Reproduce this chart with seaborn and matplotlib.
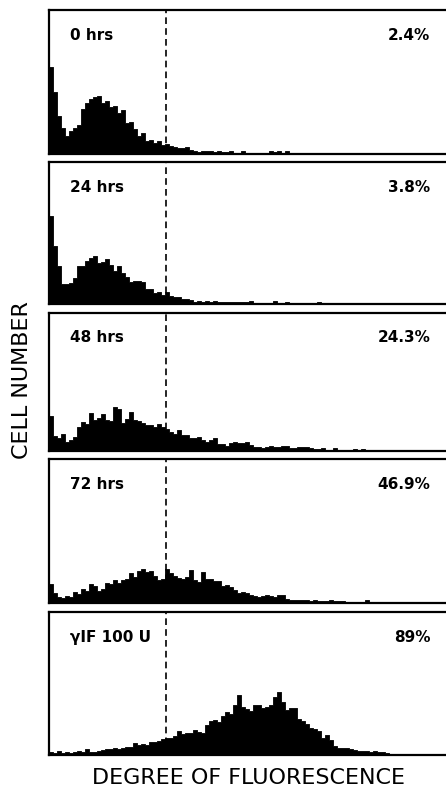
"""
Flow cytometry fluorescence histograms at successive time points.
"""

import numpy as np
import pandas as pd
import matplotlib
matplotlib.use("Agg")
import matplotlib.pyplot as plt
import seaborn as sns

# channel bins (each bin = 4 fluorescence channels), 100 bins across the panel
n_bins = 100

labels = ["0 hrs", "24 hrs", "48 hrs", "72 hrs", "\u03b3IF 100 U"]
percents = ["2.4%", "3.8%", "24.3%", "46.9%", "89%"]

counts_0h = [87, 62, 38, 26, 18, 23, 26, 29, 45, 51, 55, 57, 58, 51, 53, 47, 48, 41, 44, 31,
             32, 25, 18, 21, 13, 14, 11, 13, 9, 10, 8, 7, 6, 6, 7, 4, 3, 2, 3, 3,
             3, 2, 3, 2, 2, 3, 1, 1, 3, 1, 1, 1, 1, 1, 1, 3, 2, 3, 1, 3, 1]

counts_24h = [88, 58, 38, 20, 20, 21, 26, 38, 38, 43, 46, 48, 41, 42, 45, 39, 33, 38, 31, 27,
              22, 23, 23, 22, 15, 15, 11, 12, 9, 12, 8, 7, 7, 5, 5, 4, 2, 3, 2, 3,
              2, 3, 2, 2, 2, 2, 2, 2, 2, 2, 3, 1, 1, 1, 1, 1, 3, 1, 1, 2,
              1, 0, 1, 0, 1, 0, 1, 2]

counts_48h = [35, 15, 13, 17, 9, 11, 14, 24, 29, 27, 38, 31, 33, 37, 31, 30, 44, 42, 28, 32,
              39, 31, 30, 28, 26, 26, 24, 27, 24, 22, 19, 17, 21, 16, 16, 13, 13, 14, 11, 9,
              11, 13, 7, 7, 5, 8, 9, 8, 8, 9, 6, 4, 4, 3, 4, 5, 4, 4, 5, 5,
              3, 3, 4, 4, 4, 3, 2, 2, 3, 1, 1, 3, 1, 1, 1, 1, 2, 1, 2, 1]

counts_72h = [19, 10, 6, 5, 7, 6, 11, 9, 14, 12, 19, 17, 12, 14, 20, 19, 23, 20, 23, 24,
              30, 26, 32, 34, 31, 32, 27, 23, 24, 34, 30, 27, 25, 24, 26, 33, 23, 21, 31, 24,
              24, 22, 22, 17, 18, 16, 13, 10, 11, 10, 8, 7, 6, 7, 8, 7, 6, 8, 8, 4,
              3, 3, 3, 3, 3, 2, 3, 2, 2, 2, 3, 2, 2, 2, 1, 1, 1, 1, 1, 3, 1, 1]

counts_ifn = [3, 2, 4, 2, 3, 2, 3, 4, 3, 6, 3, 3, 4, 5, 6, 6, 7, 6, 7, 8,
              8, 12, 10, 11, 10, 13, 13, 14, 16, 17, 17, 19, 24, 21, 22, 22, 25, 23, 22, 30,
              34, 35, 33, 39, 43, 41, 50, 60, 48, 46, 44, 50, 50, 47, 48, 50, 58, 63, 53, 45,
              47, 47, 36, 34, 31, 27, 26, 24, 17, 20, 15, 9, 7, 7, 7, 6, 5, 4, 4, 4,
              3, 4, 3, 3, 2, 1, 1]

gate_channel = 29.2

# panel boxes in pixels: (top, bottom)
panel_px = [(10, 154), (162, 304), (313, 451), (459, 603), (612, 755)]
fig_w, fig_h = 446, 795
left_px, right_px = 49, 449


def pad(values):
    return values + [0] * (n_bins - len(values))


def main():
    sns.set_style("white")
    plt.rcParams["font.family"] = ["DejaVu Sans"]
    plt.rcParams["text.color"] = "black"

    fig = plt.figure(figsize=(fig_w / 100, fig_h / 100), dpi=100)
    fig.patch.set_facecolor("white")

    series = [counts_0h, counts_24h, counts_48h, counts_72h, counts_ifn]

    for (top, bottom), counts, lab, pct in zip(panel_px, series, labels, percents):
        df = pd.DataFrame({"channel": np.arange(n_bins) + 0.5, "count": pad(counts)})
        ax = fig.add_axes([left_px / fig_w, (fig_h - bottom) / fig_h,
                           (right_px - left_px) / fig_w, (bottom - top) / fig_h])
        sns.histplot(data=df, x="channel", weights="count", bins=n_bins,
                     binrange=(0, n_bins), element="step", fill=True,
                     color="black", alpha=1, linewidth=0.6, ax=ax)
        ax.axvline(gate_channel, color="black", lw=1.2, ls=(0, (4, 2.5)))
        ax.set_xlim(0, n_bins)
        ax.set_ylim(0, bottom - top)
        ax.set_xticks([])
        ax.set_yticks([])
        ax.set_xlabel("")
        ax.set_ylabel("")
        for sp in ax.spines.values():
            sp.set_color("black")
            sp.set_linewidth(1.6)
        ax.text(0.053, 0.82, lab, transform=ax.transAxes, fontsize=11,
                fontweight="bold", ha="left", va="center", color="black")
        ax.text(0.953, 0.82, pct, transform=ax.transAxes, fontsize=11,
                fontweight="bold", ha="right", va="center", color="black")

    fig.text(22 / fig_w, 1 - 380 / fig_h, "CELL NUMBER", rotation=90,
             fontsize=16, ha="center", va="center", color="black")
    fig.text(249 / fig_w, 1 - 778 / fig_h, "DEGREE OF FLUORESCENCE",
             fontsize=16, ha="center", va="center", color="black")

    fig.savefig("out.png", dpi=100)
    plt.close(fig)


if __name__ == "__main__":
    main()
